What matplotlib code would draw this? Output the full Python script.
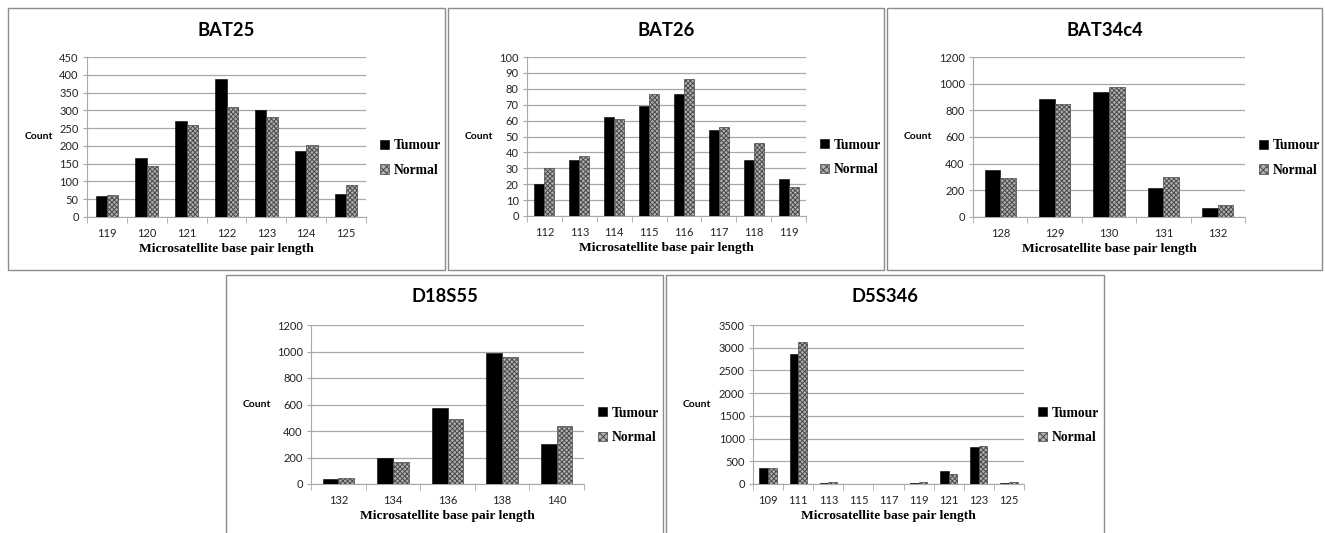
import matplotlib.pyplot as plt
from matplotlib.patches import Rectangle, Patch
import numpy as np

plt.rcParams['hatch.linewidth'] = 0.7

# data
bat25_x = ['119', '120', '121', '122', '123', '124', '125']
bat25_t = [58, 166, 271, 389, 301, 187, 64]
bat25_n = [62, 143, 258, 310, 281, 202, 89]

bat26_x = ['112', '113', '114', '115', '116', '117', '118', '119']
bat26_t = [20, 35, 62, 69, 77, 54, 35, 23]
bat26_n = [30, 38, 61, 77, 86, 56, 46, 18]

bat34_x = ['128', '129', '130', '131', '132']
bat34_t = [354, 887, 940, 219, 68]
bat34_n = [289, 847, 972, 302, 93]

d18_x = ['132', '134', '136', '138', '140']
d18_t = [40, 199, 574, 987, 302]
d18_n = [48, 164, 491, 955, 441]

d5_x = ['109', '111', '113', '115', '117', '119', '121', '123', '125']
d5_t = [360, 2860, 12, 0, 0, 12, 294, 824, 12]
d5_n = [360, 3132, 40, 0, 0, 40, 228, 846, 40]

W, H = 1325, 533
fig = plt.figure(figsize=(W / 100, H / 100), dpi=100)

SANS = 'Lato'
SERIF = 'Liberation Serif'
GRAY = '#a8a8a8'
NFACE = '#b0b0b0'
NEDGE = '#4a4a4a'


def fx(px):
    return px / W


def fy(py):
    return 1 - py / H


def panel(box, ax_box, title, cats, tum, nor, ymax, step):
    # box / ax_box given in image pixels: (left, top, right, bottom)
    l, t, r, b = box
    fig.patches.append(Rectangle((fx(l), fy(b)), fx(r) - fx(l), fy(t) - fy(b),
                                 transform=fig.transFigure, fill=False,
                                 edgecolor='#8c8c8c', linewidth=1.0, zorder=0))
    al, at, ar, ab = ax_box
    ax = fig.add_axes([fx(al), fy(ab), fx(ar) - fx(al), fy(at) - fy(ab)])
    x = np.arange(len(cats))
    w = 0.286
    ax.bar(x - w / 2, tum, w, color='black', edgecolor='black', linewidth=0.4, zorder=3)
    ax.bar(x + w / 2, nor, w, color=NFACE, edgecolor=NEDGE, hatch='xxxxxxx',
           linewidth=0.5, zorder=3)
    ax.set_xlim(-0.5, len(cats) - 0.5)
    ax.set_ylim(0, ymax)
    ax.set_yticks(np.arange(0, ymax + 1, step))
    ax.yaxis.grid(True, color=GRAY, linewidth=0.9, zorder=0)
    ax.set_axisbelow(True)
    for s in ['top', 'right']:
        ax.spines[s].set_visible(False)
    ax.spines['left'].set_color(GRAY)
    ax.spines['bottom'].set_color(GRAY)
    ax.set_xticks(x)
    ax.set_xticklabels(cats, fontsize=8, family=SANS, color='#222222')
    ax.set_xticks(np.arange(-0.5, len(cats), 1), minor=True)
    ax.tick_params(axis='x', which='major', length=0, pad=8)
    ax.tick_params(axis='x', which='minor', length=4, color=GRAY)
    ax.tick_params(axis='y', length=3, color=GRAY, labelsize=8, pad=3)
    for lab in ax.get_yticklabels():
        lab.set_family(SANS)
        lab.set_color('#222222')
    cx = (l + r) / 2
    fig.text(fx(cx), fy(t + 22), title, ha='center', va='center',
             fontsize=13.2, fontweight='bold', family=SANS)
    fig.text(fx((al + ar) / 2), fy(ab + 32), 'Microsatellite base pair length',
             ha='center', va='center', fontsize=9.7, fontweight='bold', family=SERIF)
    fig.text(fx(l + 31), fy((at + ab) / 2), 'Count', ha='center', va='center',
             fontsize=7.5, fontweight='bold', family=SANS)
    handles = [Patch(facecolor='black', edgecolor='black', linewidth=0.4),
               Patch(facecolor=NFACE, edgecolor=NEDGE, hatch='xxxxx', linewidth=0.5)]
    fig.legend(handles, ['Tumour', 'Normal'], loc='center left',
               bbox_to_anchor=(fx(ar + 14), fy((at + ab) / 2 + 21)),
               frameon=False, prop={'family': SERIF, 'weight': 'bold', 'size': 9.8},
               handlelength=0.65, handleheight=0.65, handletextpad=0.35,
               labelspacing=0.85, borderaxespad=0, borderpad=0)
    return ax


panel((8, 8, 445, 270), (87, 57, 366, 217), 'BAT25', bat25_x, bat25_t, bat25_n, 450, 50)
panel((448, 8, 884, 270), (527, 57, 806, 216), 'BAT26', bat26_x, bat26_t, bat26_n, 100, 10)
panel((887, 8, 1322, 270), (973, 57, 1245, 217), 'BAT34c4', bat34_x, bat34_t, bat34_n, 1200, 200)
panel((226, 275, 663, 540), (311, 325, 584, 484), 'D18S55', d18_x, d18_t, d18_n, 1200, 200)
panel((666, 275, 1104, 540), (753, 325, 1024, 484), 'D5S346', d5_x, d5_t, d5_n, 3500, 500)

fig.savefig('out.png', dpi=100, facecolor='white')
